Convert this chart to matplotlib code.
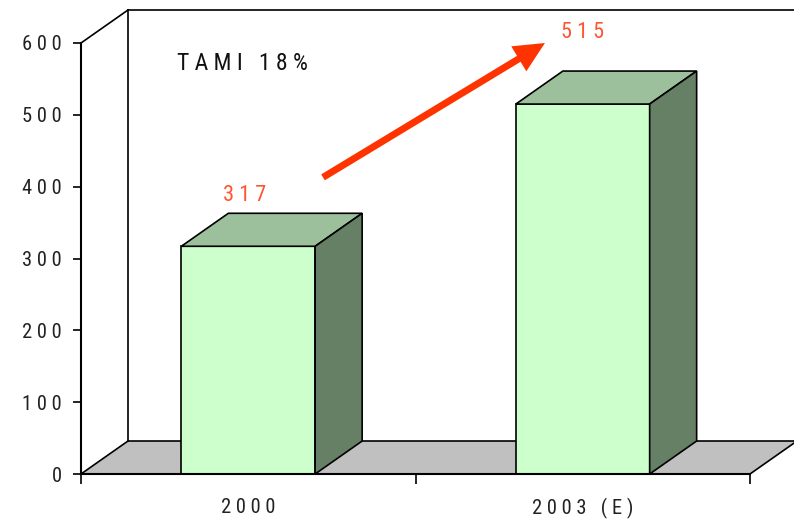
import matplotlib
matplotlib.use("Agg")
import matplotlib.pyplot as plt
from matplotlib.patches import Polygon

categories = ["2000", "2003 (E)"]
values = [317, 515]
yticks = [0, 100, 200, 300, 400, 500, 600]
note_text = "TAMI 18%"

FONT = ["Roboto Condensed", "DejaVu Sans"]

def spaced(s):
    return " ".join(list(s))

W, H = 794, 519
fig = plt.figure(figsize=(W / 100, H / 100), dpi=100)
L, R, B, T = 81, 750, 474, 43
ax = fig.add_axes([L / W, (H - B) / H, (R - L) / W, (B - T) / H])
ax.set_xlim(0, 2)
ax.set_ylim(0, 600)
for s in ax.spines.values():
    s.set_visible(False)
ax.patch.set_visible(False)

# depth offsets (pixels -> data)
DX_PX, DY_PX = 47, 33
ddx = DX_PX * 2 / (R - L)
ddy = DY_PX * 600 / (B - T)

lw = 1.2
edge = "black"
# floor
floor = Polygon([(0, 0), (2, 0), (2 + ddx, ddy), (ddx, ddy)], closed=True,
                facecolor="#C0C0C0", edgecolor=edge, lw=lw, clip_on=False, zorder=1)
ax.add_patch(floor)
# back wall / left wall lines
ax.plot([ddx, ddx], [ddy, 600 + ddy], color=edge, lw=lw, clip_on=False, zorder=1)
ax.plot([ddx, 2 + ddx + 0.2], [600 + ddy, 600 + ddy], color=edge, lw=lw, clip_on=False, zorder=1)
ax.plot([0, ddx], [600, 600 + ddy], color=edge, lw=lw, clip_on=False, zorder=1)

# bars
xpos = [0.5, 1.5]
bw = 0.4
ax.bar(xpos, values, width=bw, color="#CCFFCC", edgecolor=edge, lw=lw, zorder=3)
for x, v in zip(xpos, values):
    x0, x1 = x - bw / 2, x + bw / 2
    top = Polygon([(x0, v), (x1, v), (x1 + ddx, v + ddy), (x0 + ddx, v + ddy)],
                  closed=True, facecolor="#9BC09B", edgecolor=edge, lw=lw, clip_on=False, zorder=3)
    side = Polygon([(x1, 0), (x1 + ddx, ddy), (x1 + ddx, v + ddy), (x1, v)],
                   closed=True, facecolor="#668066", edgecolor=edge, lw=lw, clip_on=False, zorder=3)
    ax.add_patch(top)
    ax.add_patch(side)

# axes lines
ax.plot([0, 0], [0, 600], color=edge, lw=1.5, clip_on=False, zorder=4)
ax.plot([0, 2], [0, 0], color=edge, lw=1.5, clip_on=False, zorder=4)

ax.set_yticks(yticks)
ax.set_yticklabels([spaced(str(t)) for t in yticks], fontfamily=FONT, fontsize=14.8, color="#222222")
ax.set_xticks([0, 1, 2])
ax.set_xticklabels([])
ax.set_xticks(xpos, minor=True)
ax.set_xticklabels([spaced(c) for c in categories], minor=True, fontfamily=FONT, fontsize=14.8, color="#222222")
ax.tick_params(axis="y", length=6, width=1.2, pad=8)
ax.tick_params(axis="x", which="major", length=7, width=1.2, direction="out")
ax.tick_params(axis="x", which="minor", length=0, pad=17)

# value labels
label_y = [388, 615]
label_x = [0.49, 1.5]
for x, y, v in zip(label_x, label_y, values):
    ax.text(x, y, spaced(str(v)), ha="center", va="center", fontfamily=FONT,
            fontsize=16, color="#FF5533", clip_on=False)

ax.text(0.287, 572, spaced("TAMI") + "   " + spaced("18%"), ha="left", va="center",
        fontfamily=FONT, fontsize=17, color="#111111")

# growth arrow
ax.annotate("", xy=(1.387, 600), xytext=(0.7235, 413), annotation_clip=False,
            arrowprops=dict(facecolor="#FF3300", edgecolor="none", width=5,
                            headwidth=21, headlength=22, shrink=0))

fig.savefig("out.png", dpi=100)
